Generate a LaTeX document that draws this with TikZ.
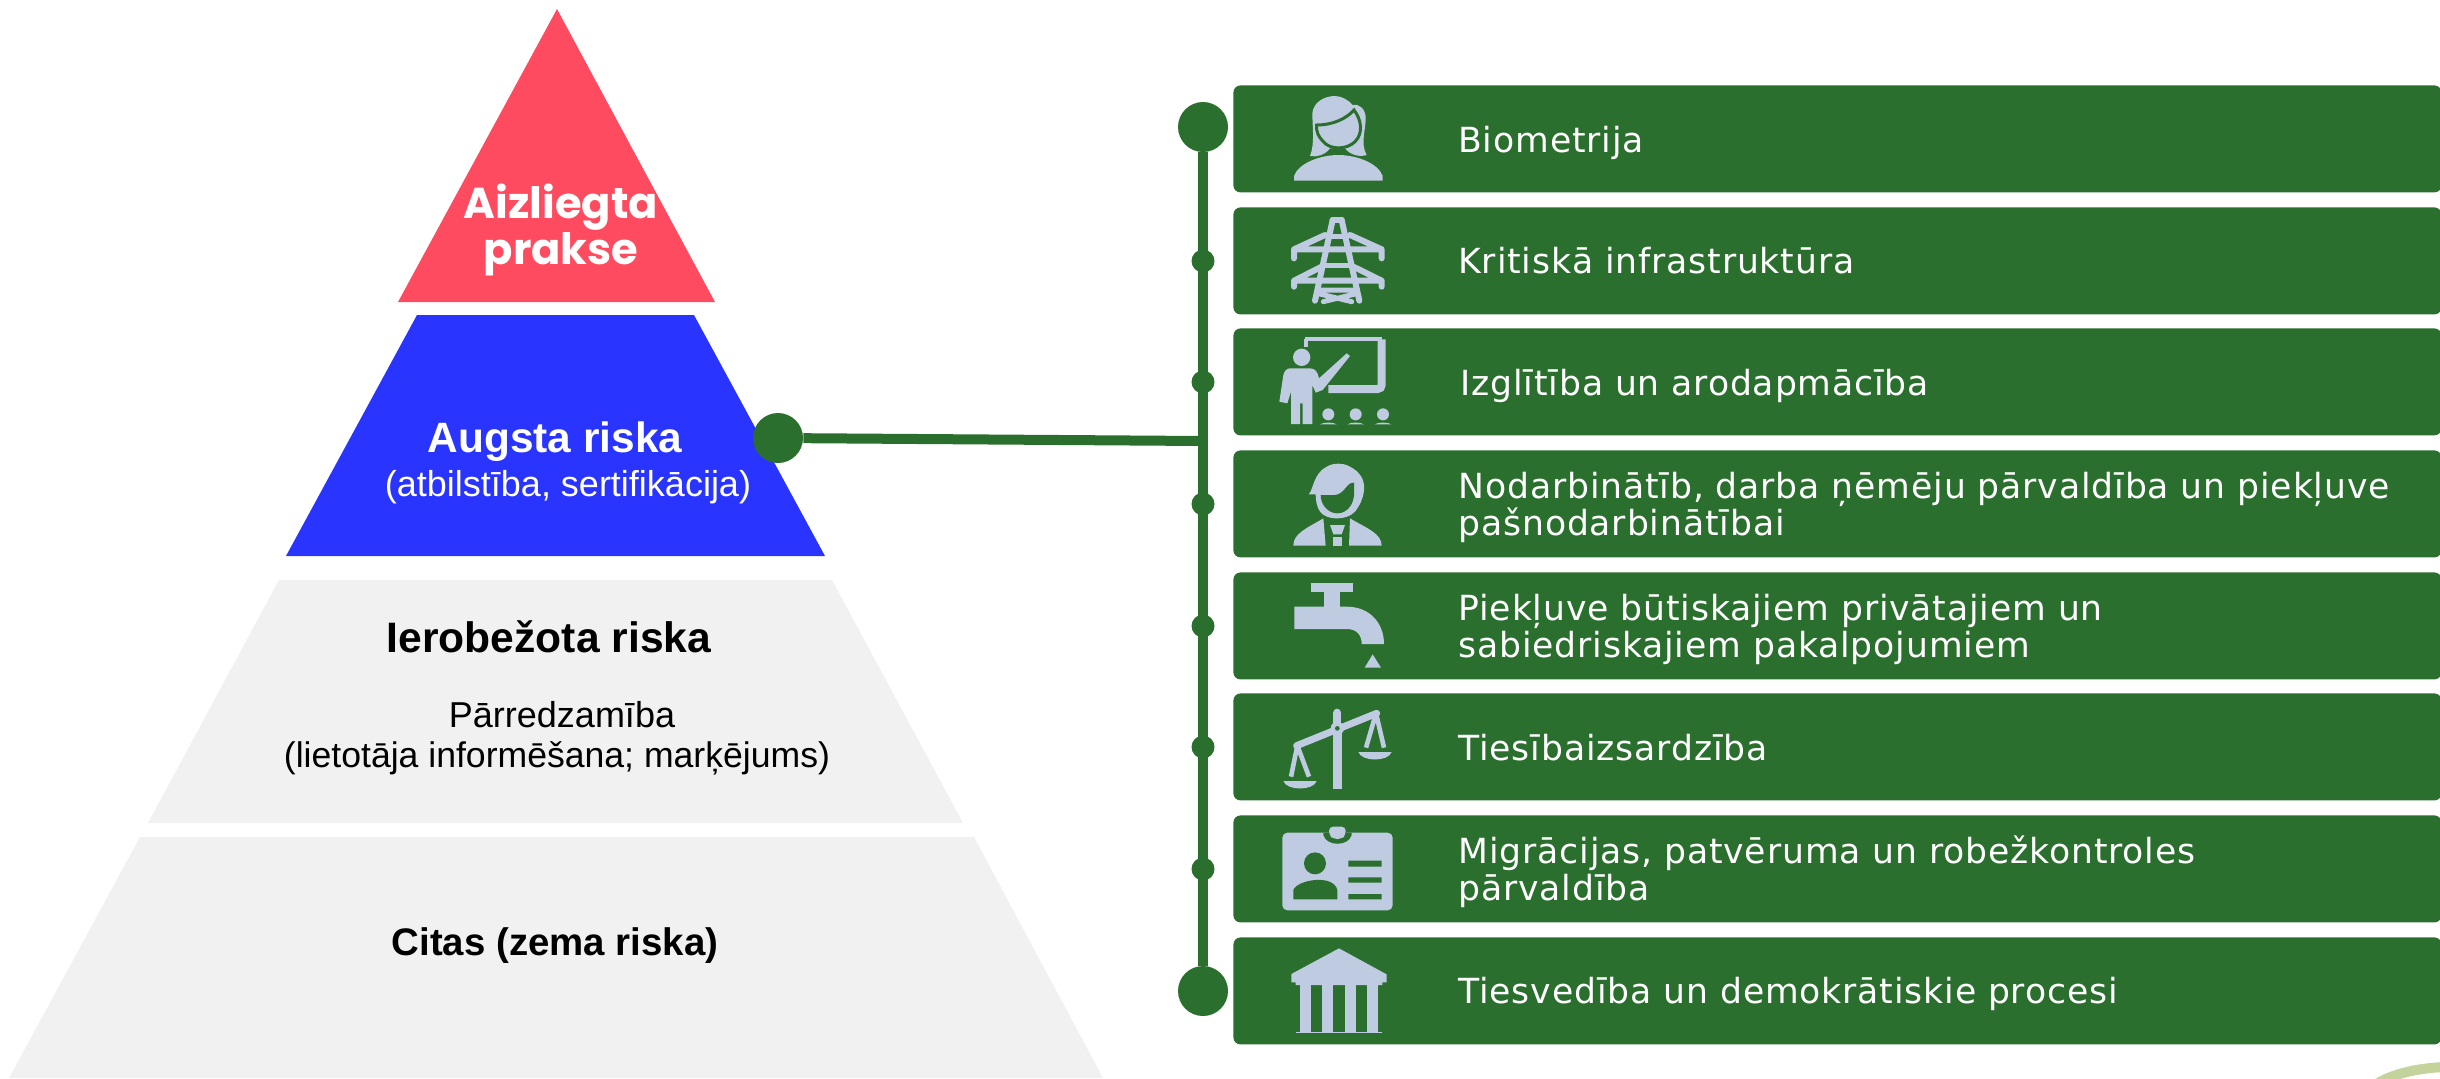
\documentclass[tikz,border=0pt]{standalone}
\usepackage{fontspec}
\setmainfont{Liberation Sans}
\newfontfamily\verd[LetterSpace=2.5]{DejaVu Sans}
\newfontfamily\pop{Poppins}[BoldFont=* Bold]
\definecolor{gr}{HTML}{2A6F2D}
\definecolor{ic}{HTML}{BFCBE0}
\definecolor{rd}{HTML}{FF4B5F}
\definecolor{bl}{HTML}{2934FF}
\definecolor{gy}{HTML}{F1F1F1}
\definecolor{ol}{HTML}{C4D29B}
\begin{document}
\begin{tikzpicture}[x=0.5pt,y=-0.5pt,
  gbox/.style={fill=gr,rounded corners=3.5pt,minimum width=604pt,minimum height=53.5pt,inner sep=0,anchor=north west},
  lab/.style={text=white,anchor=base west,inner sep=0,align=left,font=\verd\fontsize{17.3}{18.5}\selectfont},
  bigdot/.style={circle,fill=gr,minimum size=25pt,inner sep=0},
  smalldot/.style={circle,fill=gr,minimum size=11.5pt,inner sep=0},
  tier/.style={inner sep=0,anchor=base},
  ln/.style={draw=gr,line width=5pt},
  iconl/.style={draw=ic,line width=#1,line cap=round,line join=round},
  iconl/.default=3pt]
\useasboundingbox (0,0) rectangle (2440,1078);
% pyramid
\fill[rd] (557,9) -- (715,302) -- (398,302) -- cycle;
\fill[bl] (417,315) -- (694,315) -- (825,556) -- (286,556) -- cycle;
\fill[gy] (279,580) -- (832,580) -- (963,823) -- (148,823) -- cycle;
\fill[gy] (140,837) -- (974,837) -- (1103,1078) -- (9,1078) -- cycle;
\node[tier,text=white,align=center,font=\pop\bfseries\fontsize{21.6}{19}\selectfont] (t1) at (561,264) {Aizliegta\\prakse};
\node[tier,text=white,font=\bfseries\fontsize{21.2}{21}\selectfont] (t2a) at (555,452) {Augsta riska};
\node[tier,text=white,font=\fontsize{18}{18}\selectfont] (t2b) at (568,496) {(atbilstība, sertifikācija)};
\node[tier,font=\bfseries\fontsize{21.3}{21}\selectfont] (t3a) at (549,652) {Ierobežota riska};
\node[tier,font=\fontsize{18}{18}\selectfont] (t3b) at (562,727) {Pārredzamība};
\node[tier,font=\fontsize{17.8}{18}\selectfont] (t3c) at (557,767) {(lietotāja informēšana; marķējums)};
\node[tier,font=\bfseries\fontsize{19.2}{18}\selectfont] (t4) at (555,955) {Citas (zema riska)};
% boxes
\foreach \n/\y in {1/85,2/207,3/328,4/450,5/572,6/693,7/815,8/937}
  \node[gbox] (b\n) at (1233,\y) {};
% olive arc
\draw[ol,line width=5pt] (2378,1083) .. controls (2395,1073) and (2420,1068) .. (2444,1067);
% timeline
\node[bigdot] (top) at (1203,127) {};
\node[bigdot] (bot) at (1203,991) {};
\node[bigdot] (hi) at (778,438) {};
\draw[ln] (top) -- (bot);
\coordinate (j) at (1203,441);
\draw[ln] (hi) -- (j);
\foreach \n/\y in {2/261,3/382,4/504,5/626,6/747,7/869}
  \node[smalldot] (d\n) at (1203,\y) {};
% labels
\node[lab] (l1) at (1458,152.5) {Biometrija};
\node[lab] (l2) at (1458,273.5) {Kritiskā infrastruktūra};
\node[lab] (l3) at (1460,395.5) {Izglītība un arodapmācība};
\node[lab] (l4) at (1458,535) {Nodarbinātīb, darba ņēmēju pārvaldība un piekļuve\\pašnodarbinātībai};
\node[lab] (l5) at (1458,657) {Piekļuve būtiskajiem privātajiem un\\sabiedriskajiem pakalpojumiem};
\node[lab] (l6) at (1458,760.5) {Tiesībaizsardzība};
\node[lab] (l7) at (1458,900) {Migrācijas, patvēruma un robežkontroles\\pārvaldība};
\node[lab] (l8) at (1458,1003.5) {Tiesvedība un demokrātiskie procesi};
% icons, upper crop
\begin{scope}[shift={(1150,70)},scale=1/3]
 % woman
 \fill[ic] (432,332) -- (432,318) .. controls (445,280) and (510,255) .. (565,255) .. controls (620,255) and (685,280) .. (698,318) -- (698,332) -- cycle;
 \fill[ic] (480,258) .. controls (495,220) and (487,170) .. (487,130) .. controls (490,95) and (525,78) .. (555,78) .. controls (575,78) and (595,90) .. (608,105) .. controls (625,100) and (645,115) .. (647,140) .. controls (648,180) and (630,220) .. (650,255) .. controls (630,262) and (600,255) .. (585,235) -- (540,235) .. controls (525,255) and (500,262) .. (480,258) -- cycle;
 \draw[gr,line width=1.5pt,fill=ic] (500,165) .. controls (550,165) and (590,145) .. (612,120) .. controls (635,150) and (640,190) .. (615,215) .. controls (590,240) and (540,240) .. (520,215) .. controls (505,200) and (498,185) .. (500,165) -- cycle;
 % pylon
 \draw[iconl=3pt] (548,450) -- (575,450);
 \draw[iconl=3pt] (548,450) -- (495,692) (575,450) -- (628,692);
 \draw[iconl=3pt] (432,565) -- (432,538) -- (525,495) (695,565) -- (695,538) -- (600,495) (432,538) -- (695,538);
 \draw[iconl=3pt] (432,650) -- (432,632) -- (515,590) (695,650) -- (695,632) -- (610,590) (432,632) -- (695,632);
 \draw[iconl=2.5pt] (530,500) -- (593,500) (520,585) -- (605,585);
 \draw[iconl=2.5pt] (510,672) -- (605,695) (615,672) -- (520,695) (505,660) -- (620,660);
 % teacher
 \draw[ic,line width=2pt] (465,808) -- (696,808);
 \draw[ic,line width=4pt,rounded corners=2pt] (695,808) -- (695,957) -- (535,957);
 \draw[ic,line width=2pt] (467,808) -- (467,830);
 \fill[ic] (455,862) circle[radius=26];
 \fill[ic] (420,895) -- (480,895) .. controls (495,895) and (503,905) .. (507,925) -- (590,850) -- (600,858) -- (518,960) -- (497,968) -- (487,945) -- (487,1062) -- (458,1062) -- (458,1000) -- (450,1000) -- (450,1062) -- (423,1062) -- (423,965) -- (412,1000) -- (388,995) -- (400,915) .. controls (403,903) and (410,895) .. (420,895) -- cycle;
 \foreach \cx in {535,617,699} {
   \fill[ic] (\cx,1033) circle[radius=18];
   \fill[ic] (\cx-25,1063) .. controls (\cx-15,1056) and (\cx+15,1056) .. (\cx+25,1063) -- cycle;
 }
\end{scope}
\begin{scope}[shift={(1150,430)},scale=1/3]
 % man
 \fill[ic] (476,193) .. controls (490,180) and (490,130) .. (530,110) .. controls (550,98) and (580,98) .. (600,110) .. controls (630,125) and (645,150) .. (642,180) .. controls (640,205) and (630,225) .. (615,245) .. controls (590,272) and (530,272) .. (510,245) .. controls (500,230) and (497,210) .. (497,193) -- cycle;
 \fill[gr] (512,195) -- (555,195) .. controls (585,192) and (590,155) .. (612,158) -- (612,195) .. controls (610,225) and (590,250) .. (562,250) .. controls (535,250) and (512,225) .. (512,195) -- cycle;
 \fill[ic] (430,347) .. controls (430,310) and (470,295) .. (520,265) -- (527,347) -- cycle;
 \fill[ic] (695,347) .. controls (695,310) and (650,295) .. (600,265) -- (597,347) -- cycle;
 \fill[ic] (540,285) -- (585,285) -- (575,313) -- (550,313) -- cycle;
 \fill[ic] (550,322) rectangle (575,347);
 % tap
 \fill[ic] (483,460) rectangle (608,485);
 \fill[ic] (522,485) rectangle (570,532);
 \fill[ic] (433,530) -- (590,530) .. controls (660,530) and (702,580) .. (702,642) -- (635,642) .. controls (635,615) and (620,597) .. (590,597) -- (433,597) -- cycle;
 \fill[ic] (668,673) -- (693,713) -- (644,713) -- cycle;
 % scales
 \draw[ic,line width=4pt,line cap=round] (562,848) -- (562,880);
 \fill[ic] (550,900) rectangle (575,1077);
 \draw[ic,line width=3.5pt,line cap=round] (440,947) -- (680,850);
 \fill[ic] (562,895) circle[radius=20];
 \fill[gr] (562,895) circle[radius=7];
 \draw[ic,line width=2.3pt] (442,947) -- (423,1040) (442,947) -- (477,1040) (678,850) -- (648,953) (678,850) -- (702,953);
 \fill[ic] (400,1053) -- (500,1053) .. controls (490,1083) and (410,1083) .. (400,1053) -- cycle;
 \fill[ic] (625,966) -- (725,966) .. controls (715,996) and (635,996) .. (625,966) -- cycle;
\end{scope}
\begin{scope}[shift={(1150,780)},scale=1/3]
 % id card
 \fill[ic,rounded corners=2.5pt] (397,158) rectangle (728,391);
 \fill[gr] (520,158) -- (605,158) -- (605,165) .. controls (595,200) and (530,200) .. (520,165) -- cycle;
 \fill[ic,rounded corners=2pt] (537,140) -- (587,140) -- (587,165) -- (575,177) -- (550,177) -- (537,165) -- cycle;
 \fill[gr] (495,250) circle[radius=33];
 \fill[gr] (430,358) -- (430,330) .. controls (440,300) and (550,280) .. (562,330) -- (562,358) -- cycle;
 \fill[gr] (595,242) rectangle (695,260) (595,292) rectangle (695,308) (595,342) rectangle (695,358);
 % court
 \fill[ic] (567,505) -- (708,582) -- (710,582) -- (710,607) -- (697,607) -- (697,615) -- (437,615) -- (437,607) -- (424,607) -- (424,582) -- cycle;
 \foreach \cx in {450,517,584,651} \fill[ic] (\cx,612) rectangle (\cx+33,757);
 \fill[ic] (437,756) rectangle (697,759);
\end{scope}
\end{tikzpicture}
\end{document}
